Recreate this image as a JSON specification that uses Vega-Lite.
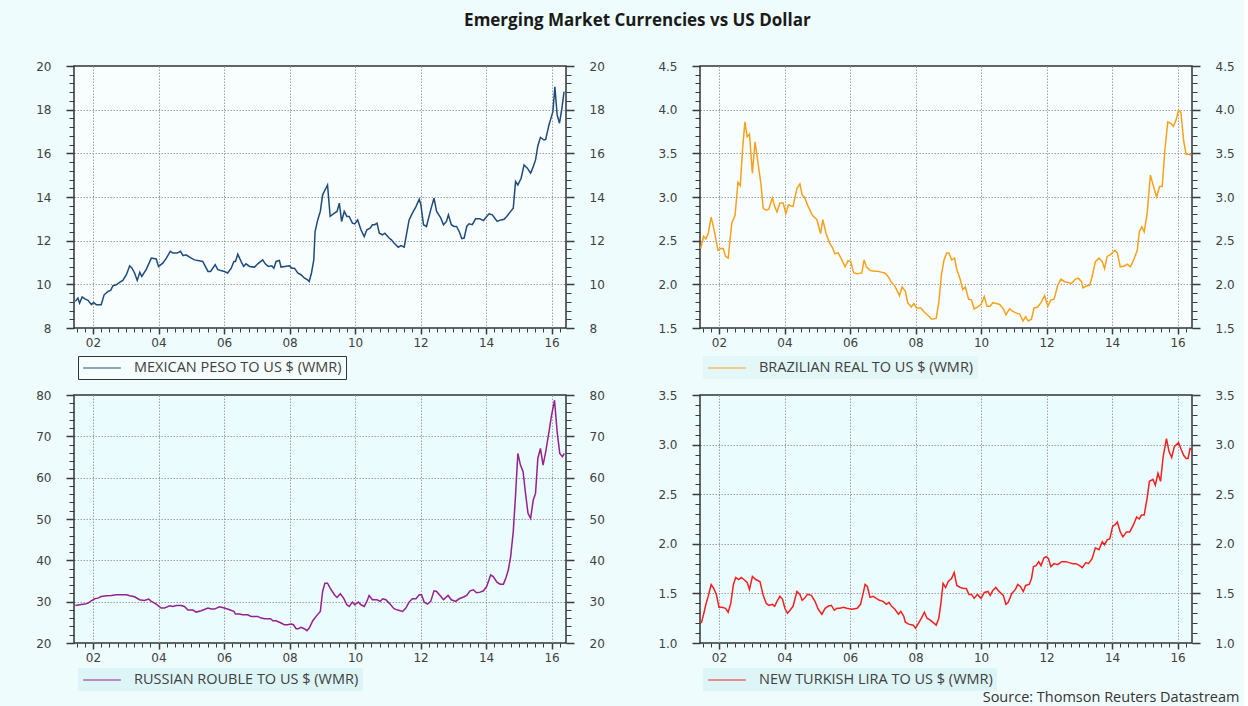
{
"$schema": "https://vega.github.io/schema/vega-lite/v6.json",
"background": "#effcfd",
"padding": {"left": 34, "top": 12, "right": 4, "bottom": 2},
"title": {"text": "Emerging Market Currencies vs US Dollar", "font": "Open Sans", "fontSize": 17, "fontWeight": "bold", "color": "#1a1a1a", "offset": 29, "anchor": "middle"},
"datasets": {
"mxn": [
{"t":2001.46,"v":9.22},{"t":2001.54,"v":9.37},{"t":2001.59,"v":9.14},{"t":2001.67,"v":9.42},{"t":2001.75,"v":9.33},{"t":2001.85,"v":9.27},{"t":2001.95,"v":9.07},{"t":2002.02,"v":9.17},{"t":2002.10,"v":9.07},{"t":2002.25,"v":9.07},{"t":2002.34,"v":9.52},{"t":2002.46,"v":9.68},{"t":2002.54,"v":9.72},{"t":2002.61,"v":9.94},{"t":2002.71,"v":9.98},{"t":2002.81,"v":10.09},{"t":2002.91,"v":10.18},{"t":2003.02,"v":10.44},{"t":2003.12,"v":10.85},{"t":2003.19,"v":10.74},{"t":2003.27,"v":10.52},{"t":2003.35,"v":10.18},{"t":2003.43,"v":10.55},{"t":2003.49,"v":10.36},{"t":2003.63,"v":10.70},{"t":2003.78,"v":11.20},{"t":2003.93,"v":11.16},{"t":2004.00,"v":10.82},{"t":2004.13,"v":10.97},{"t":2004.24,"v":11.20},{"t":2004.36,"v":11.51},{"t":2004.44,"v":11.43},{"t":2004.57,"v":11.43},{"t":2004.67,"v":11.51},{"t":2004.75,"v":11.31},{"t":2004.84,"v":11.35},{"t":2005.00,"v":11.20},{"t":2005.10,"v":11.12},{"t":2005.35,"v":11.05},{"t":2005.51,"v":10.59},{"t":2005.59,"v":10.59},{"t":2005.73,"v":10.90},{"t":2005.81,"v":10.67},{"t":2006.01,"v":10.59},{"t":2006.11,"v":10.52},{"t":2006.22,"v":10.74},{"t":2006.30,"v":11.05},{"t":2006.35,"v":11.05},{"t":2006.42,"v":11.38},{"t":2006.52,"v":11.05},{"t":2006.60,"v":10.82},{"t":2006.67,"v":10.94},{"t":2006.78,"v":10.82},{"t":2006.93,"v":10.79},{"t":2007.03,"v":10.94},{"t":2007.18,"v":11.12},{"t":2007.26,"v":10.94},{"t":2007.35,"v":10.82},{"t":2007.46,"v":10.85},{"t":2007.52,"v":10.74},{"t":2007.59,"v":11.05},{"t":2007.69,"v":11.09},{"t":2007.74,"v":10.79},{"t":2007.86,"v":10.82},{"t":2007.99,"v":10.85},{"t":2008.07,"v":10.74},{"t":2008.15,"v":10.74},{"t":2008.25,"v":10.52},{"t":2008.35,"v":10.44},{"t":2008.45,"v":10.29},{"t":2008.55,"v":10.21},{"t":2008.60,"v":10.13},{"t":2008.67,"v":10.52},{"t":2008.74,"v":11.12},{"t":2008.78,"v":12.42},{"t":2008.86,"v":12.95},{"t":2008.94,"v":13.34},{"t":2009.01,"v":14.10},{"t":2009.11,"v":14.40},{"t":2009.16,"v":14.55},{"t":2009.24,"v":13.11},{"t":2009.37,"v":13.26},{"t":2009.45,"v":13.34},{"t":2009.52,"v":13.72},{"t":2009.59,"v":12.88},{"t":2009.67,"v":13.34},{"t":2009.75,"v":13.11},{"t":2009.82,"v":13.11},{"t":2009.92,"v":12.80},{"t":2009.99,"v":12.77},{"t":2010.08,"v":12.95},{"t":2010.18,"v":12.50},{"t":2010.28,"v":12.19},{"t":2010.36,"v":12.50},{"t":2010.46,"v":12.57},{"t":2010.53,"v":12.73},{"t":2010.60,"v":12.73},{"t":2010.67,"v":12.80},{"t":2010.74,"v":12.34},{"t":2010.84,"v":12.27},{"t":2010.91,"v":12.34},{"t":2011.04,"v":12.12},{"t":2011.11,"v":12.04},{"t":2011.19,"v":11.89},{"t":2011.32,"v":11.70},{"t":2011.40,"v":11.77},{"t":2011.50,"v":11.70},{"t":2011.65,"v":12.95},{"t":2011.75,"v":13.26},{"t":2011.86,"v":13.56},{"t":2011.96,"v":13.90},{"t":2012.01,"v":13.64},{"t":2012.09,"v":12.73},{"t":2012.18,"v":12.65},{"t":2012.31,"v":13.41},{"t":2012.41,"v":13.95},{"t":2012.49,"v":13.34},{"t":2012.62,"v":13.03},{"t":2012.70,"v":12.73},{"t":2012.79,"v":12.88},{"t":2012.85,"v":13.18},{"t":2012.94,"v":12.73},{"t":2013.02,"v":12.65},{"t":2013.10,"v":12.65},{"t":2013.18,"v":12.42},{"t":2013.26,"v":12.09},{"t":2013.33,"v":12.12},{"t":2013.41,"v":12.65},{"t":2013.48,"v":12.77},{"t":2013.58,"v":12.73},{"t":2013.68,"v":13.00},{"t":2013.81,"v":13.00},{"t":2013.92,"v":12.92},{"t":2014.02,"v":13.11},{"t":2014.09,"v":13.23},{"t":2014.19,"v":13.18},{"t":2014.29,"v":12.98},{"t":2014.34,"v":12.88},{"t":2014.45,"v":12.95},{"t":2014.55,"v":12.98},{"t":2014.63,"v":13.11},{"t":2014.75,"v":13.34},{"t":2014.83,"v":13.49},{"t":2014.90,"v":14.71},{"t":2014.97,"v":14.55},{"t":2015.07,"v":14.86},{"t":2015.16,"v":15.47},{"t":2015.26,"v":15.32},{"t":2015.36,"v":15.09},{"t":2015.44,"v":15.39},{"t":2015.51,"v":15.70},{"t":2015.58,"v":16.34},{"t":2015.66,"v":16.73},{"t":2015.77,"v":16.61},{"t":2015.82,"v":16.64},{"t":2015.92,"v":17.30},{"t":2015.98,"v":17.60},{"t":2016.04,"v":17.91},{"t":2016.10,"v":19.05},{"t":2016.17,"v":17.76},{"t":2016.24,"v":17.38},{"t":2016.31,"v":18.00},{"t":2016.38,"v":18.82}
],
"brl": [
{"t":2001.44,"v":2.41},{"t":2001.53,"v":2.55},{"t":2001.60,"v":2.52},{"t":2001.67,"v":2.58},{"t":2001.76,"v":2.77},{"t":2001.84,"v":2.64},{"t":2001.97,"v":2.39},{"t":2002.05,"v":2.41},{"t":2002.13,"v":2.41},{"t":2002.20,"v":2.32},{"t":2002.28,"v":2.30},{"t":2002.39,"v":2.70},{"t":2002.49,"v":2.79},{"t":2002.58,"v":3.17},{"t":2002.65,"v":3.13},{"t":2002.72,"v":3.55},{"t":2002.79,"v":3.86},{"t":2002.86,"v":3.69},{"t":2002.93,"v":3.72},{"t":2003.02,"v":3.27},{"t":2003.10,"v":3.63},{"t":2003.18,"v":3.42},{"t":2003.28,"v":3.15},{"t":2003.35,"v":2.87},{"t":2003.44,"v":2.85},{"t":2003.52,"v":2.86},{"t":2003.63,"v":2.99},{"t":2003.70,"v":2.89},{"t":2003.77,"v":2.83},{"t":2003.86,"v":2.93},{"t":2003.96,"v":2.93},{"t":2004.04,"v":2.81},{"t":2004.12,"v":2.91},{"t":2004.26,"v":2.89},{"t":2004.38,"v":3.10},{"t":2004.47,"v":3.15},{"t":2004.54,"v":3.02},{"t":2004.61,"v":3.00},{"t":2004.70,"v":2.91},{"t":2004.85,"v":2.79},{"t":2004.99,"v":2.74},{"t":2005.10,"v":2.58},{"t":2005.17,"v":2.74},{"t":2005.27,"v":2.58},{"t":2005.38,"v":2.47},{"t":2005.45,"v":2.43},{"t":2005.54,"v":2.35},{"t":2005.64,"v":2.36},{"t":2005.75,"v":2.28},{"t":2005.85,"v":2.20},{"t":2005.94,"v":2.27},{"t":2006.02,"v":2.26},{"t":2006.11,"v":2.13},{"t":2006.22,"v":2.12},{"t":2006.36,"v":2.13},{"t":2006.43,"v":2.28},{"t":2006.50,"v":2.20},{"t":2006.61,"v":2.16},{"t":2006.74,"v":2.15},{"t":2006.85,"v":2.15},{"t":2006.95,"v":2.14},{"t":2007.06,"v":2.13},{"t":2007.16,"v":2.09},{"t":2007.27,"v":2.02},{"t":2007.37,"v":1.98},{"t":2007.51,"v":1.87},{"t":2007.59,"v":1.97},{"t":2007.69,"v":1.92},{"t":2007.76,"v":1.79},{"t":2007.87,"v":1.74},{"t":2007.95,"v":1.78},{"t":2008.03,"v":1.73},{"t":2008.16,"v":1.73},{"t":2008.27,"v":1.68},{"t":2008.39,"v":1.64},{"t":2008.50,"v":1.60},{"t":2008.63,"v":1.61},{"t":2008.71,"v":1.79},{"t":2008.79,"v":2.11},{"t":2008.87,"v":2.28},{"t":2008.95,"v":2.36},{"t":2009.02,"v":2.36},{"t":2009.10,"v":2.28},{"t":2009.19,"v":2.30},{"t":2009.26,"v":2.17},{"t":2009.37,"v":2.05},{"t":2009.44,"v":1.94},{"t":2009.52,"v":1.97},{"t":2009.62,"v":1.83},{"t":2009.71,"v":1.82},{"t":2009.79,"v":1.72},{"t":2009.89,"v":1.74},{"t":2010.00,"v":1.77},{"t":2010.10,"v":1.86},{"t":2010.18,"v":1.75},{"t":2010.28,"v":1.75},{"t":2010.36,"v":1.79},{"t":2010.47,"v":1.78},{"t":2010.57,"v":1.77},{"t":2010.68,"v":1.72},{"t":2010.76,"v":1.65},{"t":2010.87,"v":1.72},{"t":2010.97,"v":1.69},{"t":2011.08,"v":1.67},{"t":2011.18,"v":1.66},{"t":2011.28,"v":1.58},{"t":2011.36,"v":1.63},{"t":2011.44,"v":1.58},{"t":2011.54,"v":1.60},{"t":2011.62,"v":1.73},{"t":2011.73,"v":1.74},{"t":2011.83,"v":1.79},{"t":2011.94,"v":1.87},{"t":2012.04,"v":1.75},{"t":2012.13,"v":1.82},{"t":2012.23,"v":1.83},{"t":2012.34,"v":1.99},{"t":2012.44,"v":2.06},{"t":2012.55,"v":2.03},{"t":2012.65,"v":2.02},{"t":2012.76,"v":2.01},{"t":2012.88,"v":2.06},{"t":2012.97,"v":2.07},{"t":2013.07,"v":2.03},{"t":2013.11,"v":1.96},{"t":2013.22,"v":1.98},{"t":2013.32,"v":1.99},{"t":2013.39,"v":2.09},{"t":2013.49,"v":2.26},{"t":2013.60,"v":2.30},{"t":2013.70,"v":2.26},{"t":2013.77,"v":2.18},{"t":2013.85,"v":2.32},{"t":2013.95,"v":2.34},{"t":2014.09,"v":2.39},{"t":2014.16,"v":2.36},{"t":2014.25,"v":2.20},{"t":2014.37,"v":2.21},{"t":2014.46,"v":2.23},{"t":2014.56,"v":2.20},{"t":2014.67,"v":2.29},{"t":2014.77,"v":2.39},{"t":2014.83,"v":2.60},{"t":2014.91,"v":2.66},{"t":2014.98,"v":2.60},{"t":2015.07,"v":2.81},{"t":2015.17,"v":3.25},{"t":2015.28,"v":3.10},{"t":2015.36,"v":3.00},{"t":2015.45,"v":3.12},{"t":2015.53,"v":3.12},{"t":2015.61,"v":3.53},{"t":2015.70,"v":3.86},{"t":2015.80,"v":3.84},{"t":2015.87,"v":3.81},{"t":2015.95,"v":3.88},{"t":2016.03,"v":3.99},{"t":2016.10,"v":3.97},{"t":2016.19,"v":3.63},{"t":2016.26,"v":3.49},{"t":2016.35,"v":3.49},{"t":2016.41,"v":3.48}
],
"rub": [
{"t":2001.46,"v":29.09},{"t":2001.59,"v":29.25},{"t":2001.75,"v":29.41},{"t":2001.85,"v":29.65},{"t":2001.95,"v":30.22},{"t":2002.05,"v":30.70},{"t":2002.15,"v":30.86},{"t":2002.25,"v":31.26},{"t":2002.41,"v":31.42},{"t":2002.56,"v":31.50},{"t":2002.71,"v":31.67},{"t":2002.86,"v":31.67},{"t":2003.02,"v":31.67},{"t":2003.12,"v":31.42},{"t":2003.27,"v":31.18},{"t":2003.42,"v":30.46},{"t":2003.57,"v":30.30},{"t":2003.70,"v":30.62},{"t":2003.78,"v":30.06},{"t":2003.93,"v":29.41},{"t":2004.08,"v":28.45},{"t":2004.18,"v":28.45},{"t":2004.34,"v":29.01},{"t":2004.44,"v":28.85},{"t":2004.54,"v":29.09},{"t":2004.69,"v":29.09},{"t":2004.79,"v":28.85},{"t":2004.90,"v":27.96},{"t":2005.05,"v":27.96},{"t":2005.15,"v":27.48},{"t":2005.30,"v":27.80},{"t":2005.51,"v":28.45},{"t":2005.61,"v":28.21},{"t":2005.71,"v":28.21},{"t":2005.86,"v":28.77},{"t":2006.01,"v":28.45},{"t":2006.17,"v":28.05},{"t":2006.30,"v":27.64},{"t":2006.35,"v":27.00},{"t":2006.47,"v":27.00},{"t":2006.57,"v":26.84},{"t":2006.72,"v":26.84},{"t":2006.83,"v":26.44},{"t":2007.03,"v":26.44},{"t":2007.13,"v":26.03},{"t":2007.25,"v":25.87},{"t":2007.42,"v":25.87},{"t":2007.49,"v":25.39},{"t":2007.59,"v":25.39},{"t":2007.74,"v":24.83},{"t":2007.84,"v":24.42},{"t":2007.94,"v":24.42},{"t":2008.05,"v":24.59},{"t":2008.12,"v":24.42},{"t":2008.20,"v":23.46},{"t":2008.27,"v":23.46},{"t":2008.35,"v":23.78},{"t":2008.45,"v":23.46},{"t":2008.53,"v":22.98},{"t":2008.60,"v":23.62},{"t":2008.71,"v":25.39},{"t":2008.81,"v":26.44},{"t":2008.94,"v":27.64},{"t":2009.01,"v":32.47},{"t":2009.08,"v":34.48},{"t":2009.16,"v":34.48},{"t":2009.24,"v":33.27},{"t":2009.37,"v":31.67},{"t":2009.45,"v":31.02},{"t":2009.55,"v":31.91},{"t":2009.65,"v":30.86},{"t":2009.75,"v":29.25},{"t":2009.82,"v":28.85},{"t":2009.92,"v":29.90},{"t":2009.99,"v":29.25},{"t":2010.10,"v":29.90},{"t":2010.18,"v":29.25},{"t":2010.28,"v":28.85},{"t":2010.36,"v":30.06},{"t":2010.43,"v":31.50},{"t":2010.53,"v":30.46},{"t":2010.67,"v":30.46},{"t":2010.77,"v":30.06},{"t":2010.84,"v":30.70},{"t":2010.94,"v":30.46},{"t":2011.04,"v":29.65},{"t":2011.19,"v":28.29},{"t":2011.30,"v":27.96},{"t":2011.45,"v":27.64},{"t":2011.55,"v":28.45},{"t":2011.65,"v":29.90},{"t":2011.75,"v":30.70},{"t":2011.86,"v":30.70},{"t":2011.96,"v":31.67},{"t":2012.03,"v":31.67},{"t":2012.11,"v":29.90},{"t":2012.21,"v":29.41},{"t":2012.31,"v":30.06},{"t":2012.41,"v":32.63},{"t":2012.49,"v":32.47},{"t":2012.62,"v":31.26},{"t":2012.70,"v":30.46},{"t":2012.84,"v":31.50},{"t":2012.94,"v":30.46},{"t":2013.07,"v":30.06},{"t":2013.18,"v":30.70},{"t":2013.33,"v":31.18},{"t":2013.41,"v":31.50},{"t":2013.51,"v":32.63},{"t":2013.61,"v":32.87},{"t":2013.71,"v":32.15},{"t":2013.82,"v":32.31},{"t":2013.92,"v":32.63},{"t":2014.02,"v":33.68},{"t":2014.14,"v":36.49},{"t":2014.22,"v":36.09},{"t":2014.33,"v":34.72},{"t":2014.43,"v":34.24},{"t":2014.53,"v":34.24},{"t":2014.61,"v":35.85},{"t":2014.68,"v":37.70},{"t":2014.75,"v":40.92},{"t":2014.83,"v":46.95},{"t":2014.90,"v":55.80},{"t":2014.97,"v":65.86},{"t":2015.05,"v":63.04},{"t":2015.13,"v":61.43},{"t":2015.21,"v":55.80},{"t":2015.28,"v":51.38},{"t":2015.36,"v":50.17},{"t":2015.44,"v":54.59},{"t":2015.51,"v":56.20},{"t":2015.58,"v":64.65},{"t":2015.66,"v":67.06},{"t":2015.74,"v":63.04},{"t":2015.82,"v":66.26},{"t":2015.92,"v":71.09},{"t":2016.00,"v":75.11},{"t":2016.09,"v":78.73},{"t":2016.17,"v":71.09},{"t":2016.25,"v":65.86},{"t":2016.33,"v":65.05},{"t":2016.39,"v":65.86}
],
"try": [
{"t":2001.46,"v":1.20},{"t":2001.53,"v":1.29},{"t":2001.60,"v":1.39},{"t":2001.67,"v":1.47},{"t":2001.76,"v":1.59},{"t":2001.84,"v":1.55},{"t":2001.92,"v":1.49},{"t":2002.00,"v":1.36},{"t":2002.09,"v":1.36},{"t":2002.20,"v":1.35},{"t":2002.28,"v":1.31},{"t":2002.36,"v":1.40},{"t":2002.44,"v":1.59},{"t":2002.51,"v":1.66},{"t":2002.60,"v":1.64},{"t":2002.68,"v":1.66},{"t":2002.76,"v":1.64},{"t":2002.86,"v":1.61},{"t":2002.93,"v":1.54},{"t":2003.02,"v":1.67},{"t":2003.12,"v":1.64},{"t":2003.25,"v":1.62},{"t":2003.35,"v":1.48},{"t":2003.44,"v":1.40},{"t":2003.52,"v":1.38},{"t":2003.63,"v":1.39},{"t":2003.70,"v":1.37},{"t":2003.77,"v":1.42},{"t":2003.86,"v":1.47},{"t":2003.94,"v":1.44},{"t":2004.01,"v":1.35},{"t":2004.09,"v":1.30},{"t":2004.17,"v":1.33},{"t":2004.26,"v":1.37},{"t":2004.38,"v":1.52},{"t":2004.47,"v":1.49},{"t":2004.54,"v":1.43},{"t":2004.61,"v":1.45},{"t":2004.70,"v":1.49},{"t":2004.82,"v":1.48},{"t":2004.93,"v":1.42},{"t":2005.03,"v":1.34},{"t":2005.14,"v":1.29},{"t":2005.24,"v":1.35},{"t":2005.33,"v":1.37},{"t":2005.43,"v":1.38},{"t":2005.52,"v":1.33},{"t":2005.60,"v":1.35},{"t":2005.69,"v":1.35},{"t":2005.80,"v":1.36},{"t":2005.90,"v":1.35},{"t":2006.06,"v":1.34},{"t":2006.22,"v":1.35},{"t":2006.32,"v":1.39},{"t":2006.40,"v":1.50},{"t":2006.46,"v":1.59},{"t":2006.53,"v":1.57},{"t":2006.61,"v":1.46},{"t":2006.71,"v":1.47},{"t":2006.80,"v":1.45},{"t":2006.90,"v":1.43},{"t":2007.01,"v":1.42},{"t":2007.11,"v":1.39},{"t":2007.19,"v":1.41},{"t":2007.27,"v":1.37},{"t":2007.37,"v":1.34},{"t":2007.48,"v":1.29},{"t":2007.55,"v":1.32},{"t":2007.64,"v":1.27},{"t":2007.69,"v":1.21},{"t":2007.79,"v":1.19},{"t":2007.93,"v":1.18},{"t":2008.00,"v":1.15},{"t":2008.11,"v":1.21},{"t":2008.18,"v":1.25},{"t":2008.27,"v":1.31},{"t":2008.35,"v":1.25},{"t":2008.45,"v":1.23},{"t":2008.56,"v":1.20},{"t":2008.63,"v":1.18},{"t":2008.71,"v":1.25},{"t":2008.77,"v":1.39},{"t":2008.84,"v":1.60},{"t":2008.92,"v":1.56},{"t":2009.00,"v":1.62},{"t":2009.10,"v":1.65},{"t":2009.18,"v":1.71},{"t":2009.26,"v":1.58},{"t":2009.37,"v":1.56},{"t":2009.47,"v":1.55},{"t":2009.55,"v":1.55},{"t":2009.63,"v":1.49},{"t":2009.71,"v":1.49},{"t":2009.79,"v":1.45},{"t":2009.89,"v":1.49},{"t":2010.00,"v":1.45},{"t":2010.10,"v":1.51},{"t":2010.21,"v":1.52},{"t":2010.28,"v":1.48},{"t":2010.36,"v":1.53},{"t":2010.45,"v":1.56},{"t":2010.55,"v":1.52},{"t":2010.68,"v":1.48},{"t":2010.76,"v":1.39},{"t":2010.83,"v":1.41},{"t":2010.94,"v":1.50},{"t":2011.05,"v":1.54},{"t":2011.12,"v":1.59},{"t":2011.20,"v":1.57},{"t":2011.29,"v":1.52},{"t":2011.36,"v":1.58},{"t":2011.47,"v":1.59},{"t":2011.54,"v":1.65},{"t":2011.60,"v":1.77},{"t":2011.68,"v":1.78},{"t":2011.76,"v":1.82},{"t":2011.83,"v":1.78},{"t":2011.92,"v":1.86},{"t":2011.99,"v":1.87},{"t":2012.06,"v":1.85},{"t":2012.13,"v":1.77},{"t":2012.23,"v":1.80},{"t":2012.34,"v":1.79},{"t":2012.46,"v":1.82},{"t":2012.59,"v":1.82},{"t":2012.69,"v":1.81},{"t":2012.80,"v":1.80},{"t":2012.90,"v":1.80},{"t":2013.01,"v":1.78},{"t":2013.09,"v":1.76},{"t":2013.20,"v":1.81},{"t":2013.28,"v":1.80},{"t":2013.39,"v":1.85},{"t":2013.49,"v":1.96},{"t":2013.60,"v":1.94},{"t":2013.70,"v":2.02},{"t":2013.77,"v":1.99},{"t":2013.85,"v":2.04},{"t":2013.93,"v":2.05},{"t":2014.02,"v":2.18},{"t":2014.09,"v":2.19},{"t":2014.16,"v":2.22},{"t":2014.25,"v":2.12},{"t":2014.33,"v":2.07},{"t":2014.44,"v":2.12},{"t":2014.54,"v":2.12},{"t":2014.65,"v":2.19},{"t":2014.75,"v":2.27},{"t":2014.83,"v":2.25},{"t":2014.90,"v":2.29},{"t":2014.98,"v":2.29},{"t":2015.07,"v":2.46},{"t":2015.14,"v":2.63},{"t":2015.25,"v":2.65},{"t":2015.32,"v":2.59},{"t":2015.40,"v":2.71},{"t":2015.48,"v":2.63},{"t":2015.56,"v":2.88},{"t":2015.66,"v":3.06},{"t":2015.74,"v":2.93},{"t":2015.82,"v":2.87},{"t":2015.90,"v":2.98},{"t":2016.03,"v":3.02},{"t":2016.11,"v":2.95},{"t":2016.19,"v":2.89},{"t":2016.26,"v":2.86},{"t":2016.32,"v":2.86},{"t":2016.38,"v":2.96},{"t":2016.43,"v":2.95}
]
},
"spacing": 7,
"resolve": {"scale": {"color": "independent"}, "legend": {"color": "independent"}},
"vconcat": [
{"hconcat": [
{
"width": 492, "height": 262,
"view": {"fill": "#f8fefe", "stroke": "#333333", "strokeWidth": 1.5},
"data": {"name": "mxn"},
"layer": [
{"mark": {"type": "line", "strokeWidth": 1.5},
 "encoding": {
  "x": {"field": "t", "type": "quantitative", "title": null, "scale": {"domain": [2001.42, 2016.44], "nice": false, "zero": false},
        "axis": {"orient": "bottom", "values": [2002,2004,2006,2008,2010,2012,2014,2016], "labelExpr": "format(datum.value % 100, '02d')", "tickSize": 6, "labelPadding": 3, "grid": true}},
  "y": {"field": "v", "type": "quantitative", "title": null, "scale": {"domain": [8, 20], "nice": false, "zero": false},
        "axis": {"orient": "left", "values": [8,10,12,14,16,18,20], "format": "d", "tickSize": 8, "labelPadding": 15, "grid": true, "gridOpacity": {"condition": {"test": "datum.value == 8 || datum.value == 20", "value": 0}, "value": 1}}},
  "color": {"datum": "MEXICAN PESO TO US $ (WMR)", "type": "nominal", "scale": {"range": ["#1f4a7c"]},
        "legend": {"orient": "none", "legendX": 4, "legendY": 290, "strokeColor": "#333333", "fillColor": "#f6fdfe"}}
 }},
{"mark": {"type": "line", "strokeOpacity": 0},
 "encoding": {
  "x": {"field": "t", "type": "quantitative", "title": null, "scale": {"domain": [2001.42, 2016.44], "nice": false, "zero": false},
        "axis": {"orient": "bottom", "values": [2001.5,2001.75,2002,2002.25,2002.5,2002.75,2003,2003.25,2003.5,2003.75,2004,2004.25,2004.5,2004.75,2005,2005.25,2005.5,2005.75,2006,2006.25,2006.5,2006.75,2007,2007.25,2007.5,2007.75,2008,2008.25,2008.5,2008.75,2009,2009.25,2009.5,2009.75,2010,2010.25,2010.5,2010.75,2011,2011.25,2011.5,2011.75,2012,2012.25,2012.5,2012.75,2013,2013.25,2013.5,2013.75,2014,2014.25,2014.5,2014.75,2015,2015.25,2015.5,2015.75,2016,2016.25], "labels": false, "tickSize": 4, "tickWidth": 1, "grid": false}},
  "y": {"field": "v", "type": "quantitative", "title": null, "scale": {"domain": [8, 20], "nice": false, "zero": false},
        "axis": {"orient": "right", "values": [8,10,12,14,16,18,20], "format": "d", "tickSize": 8, "labelPadding": 15, "grid": false}}
 }},
{"mark": {"type": "line", "strokeOpacity": 0},
 "encoding": {
  "x": {"field": "t", "type": "quantitative", "title": null, "scale": {"domain": [2001.42, 2016.44], "nice": false, "zero": false}, "axis": null},
  "y": {"field": "v", "type": "quantitative", "title": null, "scale": {"domain": [8, 20], "nice": false, "zero": false},
        "axis": {"orient": "left", "values": [8,8.4,8.8,9.2,9.6,10,10.4,10.8,11.2,11.6,12,12.4,12.8,13.2,13.6,14,14.4,14.8,15.2,15.6,16,16.4,16.8,17.2,17.6,18,18.4,18.8,19.2,19.6,20], "labels": false, "tickSize": 5, "tickWidth": 1, "grid": false}}
 }},
{"mark": {"type": "line", "strokeOpacity": 0},
 "encoding": {
  "x": {"field": "t", "type": "quantitative", "title": null, "scale": {"domain": [2001.42, 2016.44], "nice": false, "zero": false}, "axis": null},
  "y": {"field": "v", "type": "quantitative", "title": null, "scale": {"domain": [8, 20], "nice": false, "zero": false},
        "axis": {"orient": "right", "values": [8,8.4,8.8,9.2,9.6,10,10.4,10.8,11.2,11.6,12,12.4,12.8,13.2,13.6,14,14.4,14.8,15.2,15.6,16,16.4,16.8,17.2,17.6,18,18.4,18.8,19.2,19.6,20], "labels": false, "tickSize": 5, "tickWidth": 1, "grid": false}}
 }}
],
"resolve": {"axis": {"x": "independent", "y": "independent"}}
},
{
"width": 492, "height": 262,
"view": {"fill": "#f8fefe", "stroke": "#333333", "strokeWidth": 1.5},
"data": {"name": "brl"},
"layer": [
{"mark": {"type": "line", "strokeWidth": 1.5},
 "encoding": {
  "x": {"field": "t", "type": "quantitative", "title": null, "scale": {"domain": [2001.42, 2016.44], "nice": false, "zero": false},
        "axis": {"orient": "bottom", "values": [2002,2004,2006,2008,2010,2012,2014,2016], "labelExpr": "format(datum.value % 100, '02d')", "tickSize": 6, "labelPadding": 3, "grid": true}},
  "y": {"field": "v", "type": "quantitative", "title": null, "scale": {"domain": [1.5, 4.5], "nice": false, "zero": false},
        "axis": {"orient": "left", "values": [1.5,2,2.5,3,3.5,4,4.5], "format": ".1f", "tickSize": 8, "labelPadding": 15, "grid": true, "gridOpacity": {"condition": {"test": "datum.value == 1.5 || datum.value == 4.5", "value": 0}, "value": 1}}},
  "color": {"datum": "BRAZILIAN REAL TO US $ (WMR)", "type": "nominal", "scale": {"range": ["#f9a11b"]},
        "legend": {"orient": "none", "legendX": 3, "legendY": 290, "fillColor": "#e3f7f9"}}
 }},
{"mark": {"type": "line", "strokeOpacity": 0},
 "encoding": {
  "x": {"field": "t", "type": "quantitative", "title": null, "scale": {"domain": [2001.42, 2016.44], "nice": false, "zero": false},
        "axis": {"orient": "bottom", "values": [2001.5,2001.75,2002,2002.25,2002.5,2002.75,2003,2003.25,2003.5,2003.75,2004,2004.25,2004.5,2004.75,2005,2005.25,2005.5,2005.75,2006,2006.25,2006.5,2006.75,2007,2007.25,2007.5,2007.75,2008,2008.25,2008.5,2008.75,2009,2009.25,2009.5,2009.75,2010,2010.25,2010.5,2010.75,2011,2011.25,2011.5,2011.75,2012,2012.25,2012.5,2012.75,2013,2013.25,2013.5,2013.75,2014,2014.25,2014.5,2014.75,2015,2015.25,2015.5,2015.75,2016,2016.25], "labels": false, "tickSize": 4, "tickWidth": 1, "grid": false}},
  "y": {"field": "v", "type": "quantitative", "title": null, "scale": {"domain": [1.5, 4.5], "nice": false, "zero": false},
        "axis": {"orient": "right", "values": [1.5,2,2.5,3,3.5,4,4.5], "format": ".1f", "tickSize": 8, "labelPadding": 15, "grid": false}}
 }},
{"mark": {"type": "line", "strokeOpacity": 0},
 "encoding": {
  "x": {"field": "t", "type": "quantitative", "title": null, "scale": {"domain": [2001.42, 2016.44], "nice": false, "zero": false}, "axis": null},
  "y": {"field": "v", "type": "quantitative", "title": null, "scale": {"domain": [1.5, 4.5], "nice": false, "zero": false},
        "axis": {"orient": "left", "values": [1.5,1.6,1.7,1.8,1.9,2,2.1,2.2,2.3,2.4,2.5,2.6,2.7,2.8,2.9,3,3.1,3.2,3.3,3.4,3.5,3.6,3.7,3.8,3.9,4,4.1,4.2,4.3,4.4,4.5], "labels": false, "tickSize": 5, "tickWidth": 1, "grid": false}}
 }},
{"mark": {"type": "line", "strokeOpacity": 0},
 "encoding": {
  "x": {"field": "t", "type": "quantitative", "title": null, "scale": {"domain": [2001.42, 2016.44], "nice": false, "zero": false}, "axis": null},
  "y": {"field": "v", "type": "quantitative", "title": null, "scale": {"domain": [1.5, 4.5], "nice": false, "zero": false},
        "axis": {"orient": "right", "values": [1.5,1.6,1.7,1.8,1.9,2,2.1,2.2,2.3,2.4,2.5,2.6,2.7,2.8,2.9,3,3.1,3.2,3.3,3.4,3.5,3.6,3.7,3.8,3.9,4,4.1,4.2,4.3,4.4,4.5], "labels": false, "tickSize": 5, "tickWidth": 1, "grid": false}}
 }}
],
"resolve": {"axis": {"x": "independent", "y": "independent"}}
}
], "spacing": 51, "resolve": {"scale": {"color": "independent"}, "legend": {"color": "independent"}}},
{"hconcat": [
{
"width": 492, "height": 248,
"view": {"fill": "#eafcfd", "stroke": "#333333", "strokeWidth": 1.5},
"data": {"name": "rub"},
"layer": [
{"mark": {"type": "line", "strokeWidth": 1.5},
 "encoding": {
  "x": {"field": "t", "type": "quantitative", "title": null, "scale": {"domain": [2001.42, 2016.44], "nice": false, "zero": false},
        "axis": {"orient": "bottom", "values": [2002,2004,2006,2008,2010,2012,2014,2016], "labelExpr": "format(datum.value % 100, '02d')", "tickSize": 6, "labelPadding": 3, "grid": true}},
  "y": {"field": "v", "type": "quantitative", "title": null, "scale": {"domain": [20, 80], "nice": false, "zero": false},
        "axis": {"orient": "left", "values": [20,30,40,50,60,70,80], "format": "d", "tickSize": 8, "labelPadding": 15, "grid": true, "gridOpacity": {"condition": {"test": "datum.value == 20 || datum.value == 80", "value": 0}, "value": 1}}},
  "color": {"datum": "RUSSIAN ROUBLE TO US $ (WMR)", "type": "nominal", "scale": {"range": ["#96208f"]},
        "legend": {"orient": "none", "legendX": 4, "legendY": 273, "fillColor": "#ddf5f7"}}
 }},
{"mark": {"type": "line", "strokeOpacity": 0},
 "encoding": {
  "x": {"field": "t", "type": "quantitative", "title": null, "scale": {"domain": [2001.42, 2016.44], "nice": false, "zero": false},
        "axis": {"orient": "bottom", "values": [2001.5,2001.75,2002,2002.25,2002.5,2002.75,2003,2003.25,2003.5,2003.75,2004,2004.25,2004.5,2004.75,2005,2005.25,2005.5,2005.75,2006,2006.25,2006.5,2006.75,2007,2007.25,2007.5,2007.75,2008,2008.25,2008.5,2008.75,2009,2009.25,2009.5,2009.75,2010,2010.25,2010.5,2010.75,2011,2011.25,2011.5,2011.75,2012,2012.25,2012.5,2012.75,2013,2013.25,2013.5,2013.75,2014,2014.25,2014.5,2014.75,2015,2015.25,2015.5,2015.75,2016,2016.25], "labels": false, "tickSize": 4, "tickWidth": 1, "grid": false}},
  "y": {"field": "v", "type": "quantitative", "title": null, "scale": {"domain": [20, 80], "nice": false, "zero": false},
        "axis": {"orient": "right", "values": [20,30,40,50,60,70,80], "format": "d", "tickSize": 8, "labelPadding": 15, "grid": false}}
 }},
{"mark": {"type": "line", "strokeOpacity": 0},
 "encoding": {
  "x": {"field": "t", "type": "quantitative", "title": null, "scale": {"domain": [2001.42, 2016.44], "nice": false, "zero": false}, "axis": null},
  "y": {"field": "v", "type": "quantitative", "title": null, "scale": {"domain": [20, 80], "nice": false, "zero": false},
        "axis": {"orient": "left", "values": [20,22,24,26,28,30,32,34,36,38,40,42,44,46,48,50,52,54,56,58,60,62,64,66,68,70,72,74,76,78,80], "labels": false, "tickSize": 5, "tickWidth": 1, "grid": false}}
 }},
{"mark": {"type": "line", "strokeOpacity": 0},
 "encoding": {
  "x": {"field": "t", "type": "quantitative", "title": null, "scale": {"domain": [2001.42, 2016.44], "nice": false, "zero": false}, "axis": null},
  "y": {"field": "v", "type": "quantitative", "title": null, "scale": {"domain": [20, 80], "nice": false, "zero": false},
        "axis": {"orient": "right", "values": [20,22,24,26,28,30,32,34,36,38,40,42,44,46,48,50,52,54,56,58,60,62,64,66,68,70,72,74,76,78,80], "labels": false, "tickSize": 5, "tickWidth": 1, "grid": false}}
 }}
],
"resolve": {"axis": {"x": "independent", "y": "independent"}}
},
{
"width": 492, "height": 248,
"view": {"fill": "#eafcfd", "stroke": "#333333", "strokeWidth": 1.5},
"data": {"name": "try"},
"layer": [
{"mark": {"type": "line", "strokeWidth": 1.5},
 "encoding": {
  "x": {"field": "t", "type": "quantitative", "scale": {"domain": [2001.42, 2016.44], "nice": false, "zero": false},
        "axis": {"orient": "bottom", "values": [2002,2004,2006,2008,2010,2012,2014,2016], "labelExpr": "format(datum.value % 100, '02d')", "tickSize": 6, "labelPadding": 3, "grid": true,
                 "title": "Source: Thomson Reuters Datastream", "titleX": 539, "titleY": 58, "titleAlign": "right", "titleBaseline": "alphabetic", "titleFont": "Open Sans", "titleFontSize": 14.5, "titleFontWeight": "normal", "titleColor": "#333333"}},
  "y": {"field": "v", "type": "quantitative", "title": null, "scale": {"domain": [1, 3.5], "nice": false, "zero": false},
        "axis": {"orient": "left", "values": [1,1.5,2,2.5,3,3.5], "format": ".1f", "tickSize": 8, "labelPadding": 15, "grid": true, "gridOpacity": {"condition": {"test": "datum.value == 1 || datum.value == 3.5", "value": 0}, "value": 1}}},
  "color": {"datum": "NEW TURKISH LIRA TO US $ (WMR)", "type": "nominal", "scale": {"range": ["#f52020"]},
        "legend": {"orient": "none", "legendX": 3, "legendY": 273, "fillColor": "#ddf5f7"}}
 }},
{"mark": {"type": "line", "strokeOpacity": 0},
 "encoding": {
  "x": {"field": "t", "type": "quantitative", "title": null, "scale": {"domain": [2001.42, 2016.44], "nice": false, "zero": false},
        "axis": {"orient": "bottom", "values": [2001.5,2001.75,2002,2002.25,2002.5,2002.75,2003,2003.25,2003.5,2003.75,2004,2004.25,2004.5,2004.75,2005,2005.25,2005.5,2005.75,2006,2006.25,2006.5,2006.75,2007,2007.25,2007.5,2007.75,2008,2008.25,2008.5,2008.75,2009,2009.25,2009.5,2009.75,2010,2010.25,2010.5,2010.75,2011,2011.25,2011.5,2011.75,2012,2012.25,2012.5,2012.75,2013,2013.25,2013.5,2013.75,2014,2014.25,2014.5,2014.75,2015,2015.25,2015.5,2015.75,2016,2016.25], "labels": false, "tickSize": 4, "tickWidth": 1, "grid": false}},
  "y": {"field": "v", "type": "quantitative", "title": null, "scale": {"domain": [1, 3.5], "nice": false, "zero": false},
        "axis": {"orient": "right", "values": [1,1.5,2,2.5,3,3.5], "format": ".1f", "tickSize": 8, "labelPadding": 15, "grid": false}}
 }},
{"mark": {"type": "line", "strokeOpacity": 0},
 "encoding": {
  "x": {"field": "t", "type": "quantitative", "title": null, "scale": {"domain": [2001.42, 2016.44], "nice": false, "zero": false}, "axis": null},
  "y": {"field": "v", "type": "quantitative", "title": null, "scale": {"domain": [1, 3.5], "nice": false, "zero": false},
        "axis": {"orient": "left", "values": [1,1.1,1.2,1.3,1.4,1.5,1.6,1.7,1.8,1.9,2,2.1,2.2,2.3,2.4,2.5,2.6,2.7,2.8,2.9,3,3.1,3.2,3.3,3.4,3.5], "labels": false, "tickSize": 5, "tickWidth": 1, "grid": false}}
 }},
{"mark": {"type": "line", "strokeOpacity": 0},
 "encoding": {
  "x": {"field": "t", "type": "quantitative", "title": null, "scale": {"domain": [2001.42, 2016.44], "nice": false, "zero": false}, "axis": null},
  "y": {"field": "v", "type": "quantitative", "title": null, "scale": {"domain": [1, 3.5], "nice": false, "zero": false},
        "axis": {"orient": "right", "values": [1,1.1,1.2,1.3,1.4,1.5,1.6,1.7,1.8,1.9,2,2.1,2.2,2.3,2.4,2.5,2.6,2.7,2.8,2.9,3,3.1,3.2,3.3,3.4,3.5], "labels": false, "tickSize": 5, "tickWidth": 1, "grid": false}}
 }}
],
"resolve": {"axis": {"x": "independent", "y": "independent"}}
}
], "spacing": 51, "resolve": {"scale": {"color": "independent"}, "legend": {"color": "independent"}}}
],
"config": {
 "font": "Open Sans",
 "axis": {"domain": false, "labelFont": "DejaVu Sans", "labelFontSize": 12, "labelColor": "#404040", "tickColor": "#3a3a3a", "tickWidth": 1.5, "gridColor": "#a0a0a0", "gridDash": [1.5, 1.5], "gridWidth": 1, "labelFlush": false, "labelOverlap": false},
 "legend": {"title": null, "symbolType": "M-2.7,0H2.7", "symbolSize": 196, "symbolStrokeWidth": 1.5, "symbolOpacity": 0.65, "symbolOffset": 12, "labelOffset": 24, "labelFont": "Open Sans", "labelFontSize": 14.5, "labelColor": "#404040", "labelLimit": 500, "padding": 4}
}
}
